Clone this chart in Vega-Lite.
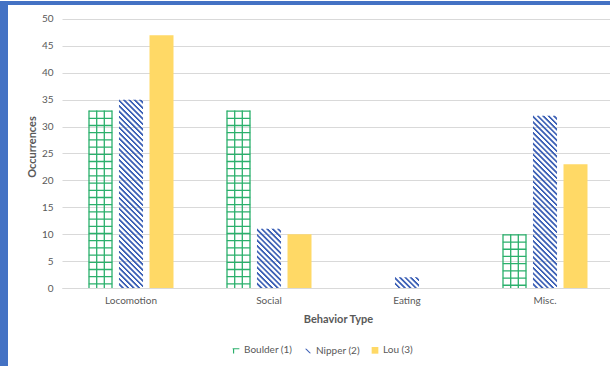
{
  "$schema": "https://vega.github.io/schema/vega-lite/v6.json",
  "padding": 0,
  "background": "white",
  "columns": 2,
  "align": "each",
  "bounds": "flush",
  "spacing": 0,
  "concat": [
    {"width": 62, "height": 4, "data": {"values": [{}]}, "mark": {"type": "point", "opacity": 0}, "view": {"fill": "#4472C4", "stroke": null}},
    {"width": 552, "height": 4, "data": {"values": [{}]}, "mark": {"type": "point", "opacity": 0}, "view": {"fill": "#4472C4", "stroke": null}},
    {"width": 8, "height": 362, "data": {"values": [{}]}, "mark": {"type": "point", "opacity": 0}, "view": {"fill": "#4472C4", "stroke": null}},
    {
      "width": 552,
      "height": 283,
      "view": {"fill": "white", "stroke": null},
      "data": {"values": [
        {"behavior": "Locomotion", "dog": "Boulder (1)", "value": 33},
        {"behavior": "Locomotion", "dog": "Nipper (2)", "value": 35},
        {"behavior": "Locomotion", "dog": "Lou (3)", "value": 47},
        {"behavior": "Social", "dog": "Boulder (1)", "value": 33},
        {"behavior": "Social", "dog": "Nipper (2)", "value": 11},
        {"behavior": "Social", "dog": "Lou (3)", "value": 10},
        {"behavior": "Eating", "dog": "Boulder (1)", "value": 0},
        {"behavior": "Eating", "dog": "Nipper (2)", "value": 2},
        {"behavior": "Eating", "dog": "Lou (3)", "value": 0},
        {"behavior": "Misc.", "dog": "Boulder (1)", "value": 10},
        {"behavior": "Misc.", "dog": "Nipper (2)", "value": 32},
        {"behavior": "Misc.", "dog": "Lou (3)", "value": 23}
      ]},
      "encoding": {
        "x": {
          "field": "behavior", "type": "nominal",
          "sort": ["Locomotion", "Social", "Eating", "Misc."],
          "scale": {"paddingInner": 0.384, "paddingOuter": 0.192},
          "axis": {"title": "Behavior Type", "labelAngle": 0, "ticks": false, "domainColor": "#D9D9D9", "domainWidth": 1, "labelPadding": 7, "titlePadding": 8, "labelFontSize": 10, "titleFontSize": 11}
        },
        "y": {
          "field": "value", "type": "quantitative",
          "scale": {"domain": [0, 52.6], "nice": false, "zero": true},
          "axis": {"title": "Occurrences", "values": [0, 5, 10, 15, 20, 25, 30, 35, 40, 45, 50], "domain": false, "ticks": false, "labelPadding": 9, "titlePadding": 4, "gridColor": "#D9D9D9", "gridWidth": 1, "labelFontSize": 10, "titleFontSize": 11}
        }
      },
      "layer": [
        {
          "transform": [{"filter": "datum.dog === 'Lou (3)'"}],
          "mark": {"type": "bar", "color": "#FFD966"},
          "encoding": {
            "xOffset": {"field": "dog", "type": "nominal", "scale": {"domain": ["Boulder (1)", "Nipper (2)", "Lou (3)"], "paddingInner": 0.213, "paddingOuter": 0}}
          }
        },
        {
          "transform": [{"filter": "datum.dog === 'Boulder (1)'"}],
          "encoding": {"y2": {"datum": 0}},
          "layer": [
            {"mark": {"type": "rule", "color": "#2BB06C", "xOffset": -30.5, "strokeWidth": 23.5, "strokeDash": [1.3, 5.9], "strokeCap": "butt"}},
            {"mark": {"type": "rule", "color": "#2BB06C", "xOffset": -42, "strokeWidth": 1.3, "strokeCap": "butt"}},
            {"mark": {"type": "rule", "color": "#2BB06C", "xOffset": -34.3, "strokeWidth": 1.3, "strokeCap": "butt"}},
            {"mark": {"type": "rule", "color": "#2BB06C", "xOffset": -26.7, "strokeWidth": 1.3, "strokeCap": "butt"}},
            {"mark": {"type": "rule", "color": "#2BB06C", "xOffset": -19, "strokeWidth": 1.3, "strokeCap": "butt"}}
          ]
        },
        {
          "transform": [{"filter": "datum.dog === 'Nipper (2)'"}],
          "encoding": {"y2": {"datum": 0}},
          "layer": [
            {"mark": {"type": "rule", "color": "#3F62B6", "xOffset": -11.5, "strokeDashOffset": 54, "strokeWidth": 1.05, "strokeDash": [2.4, 3.0], "strokeCap": "butt"}},
            {"mark": {"type": "rule", "color": "#3F62B6", "xOffset": -10.5, "strokeDashOffset": 53, "strokeWidth": 1.05, "strokeDash": [2.4, 3.0], "strokeCap": "butt"}},
            {"mark": {"type": "rule", "color": "#3F62B6", "xOffset": -9.5, "strokeDashOffset": 52, "strokeWidth": 1.05, "strokeDash": [2.4, 3.0], "strokeCap": "butt"}},
            {"mark": {"type": "rule", "color": "#3F62B6", "xOffset": -8.5, "strokeDashOffset": 51, "strokeWidth": 1.05, "strokeDash": [2.4, 3.0], "strokeCap": "butt"}},
            {"mark": {"type": "rule", "color": "#3F62B6", "xOffset": -7.5, "strokeDashOffset": 50, "strokeWidth": 1.05, "strokeDash": [2.4, 3.0], "strokeCap": "butt"}},
            {"mark": {"type": "rule", "color": "#3F62B6", "xOffset": -6.5, "strokeDashOffset": 49, "strokeWidth": 1.05, "strokeDash": [2.4, 3.0], "strokeCap": "butt"}},
            {"mark": {"type": "rule", "color": "#3F62B6", "xOffset": -5.5, "strokeDashOffset": 48, "strokeWidth": 1.05, "strokeDash": [2.4, 3.0], "strokeCap": "butt"}},
            {"mark": {"type": "rule", "color": "#3F62B6", "xOffset": -4.5, "strokeDashOffset": 47, "strokeWidth": 1.05, "strokeDash": [2.4, 3.0], "strokeCap": "butt"}},
            {"mark": {"type": "rule", "color": "#3F62B6", "xOffset": -3.5, "strokeDashOffset": 46, "strokeWidth": 1.05, "strokeDash": [2.4, 3.0], "strokeCap": "butt"}},
            {"mark": {"type": "rule", "color": "#3F62B6", "xOffset": -2.5, "strokeDashOffset": 45, "strokeWidth": 1.05, "strokeDash": [2.4, 3.0], "strokeCap": "butt"}},
            {"mark": {"type": "rule", "color": "#3F62B6", "xOffset": -1.5, "strokeDashOffset": 44, "strokeWidth": 1.05, "strokeDash": [2.4, 3.0], "strokeCap": "butt"}},
            {"mark": {"type": "rule", "color": "#3F62B6", "xOffset": -0.5, "strokeDashOffset": 43, "strokeWidth": 1.05, "strokeDash": [2.4, 3.0], "strokeCap": "butt"}},
            {"mark": {"type": "rule", "color": "#3F62B6", "xOffset": 0.5, "strokeDashOffset": 42, "strokeWidth": 1.05, "strokeDash": [2.4, 3.0], "strokeCap": "butt"}},
            {"mark": {"type": "rule", "color": "#3F62B6", "xOffset": 1.5, "strokeDashOffset": 41, "strokeWidth": 1.05, "strokeDash": [2.4, 3.0], "strokeCap": "butt"}},
            {"mark": {"type": "rule", "color": "#3F62B6", "xOffset": 2.5, "strokeDashOffset": 40, "strokeWidth": 1.05, "strokeDash": [2.4, 3.0], "strokeCap": "butt"}},
            {"mark": {"type": "rule", "color": "#3F62B6", "xOffset": 3.5, "strokeDashOffset": 39, "strokeWidth": 1.05, "strokeDash": [2.4, 3.0], "strokeCap": "butt"}},
            {"mark": {"type": "rule", "color": "#3F62B6", "xOffset": 4.5, "strokeDashOffset": 38, "strokeWidth": 1.05, "strokeDash": [2.4, 3.0], "strokeCap": "butt"}},
            {"mark": {"type": "rule", "color": "#3F62B6", "xOffset": 5.5, "strokeDashOffset": 37, "strokeWidth": 1.05, "strokeDash": [2.4, 3.0], "strokeCap": "butt"}},
            {"mark": {"type": "rule", "color": "#3F62B6", "xOffset": 6.5, "strokeDashOffset": 36, "strokeWidth": 1.05, "strokeDash": [2.4, 3.0], "strokeCap": "butt"}},
            {"mark": {"type": "rule", "color": "#3F62B6", "xOffset": 7.5, "strokeDashOffset": 35, "strokeWidth": 1.05, "strokeDash": [2.4, 3.0], "strokeCap": "butt"}},
            {"mark": {"type": "rule", "color": "#3F62B6", "xOffset": 8.5, "strokeDashOffset": 34, "strokeWidth": 1.05, "strokeDash": [2.4, 3.0], "strokeCap": "butt"}},
            {"mark": {"type": "rule", "color": "#3F62B6", "xOffset": 9.5, "strokeDashOffset": 33, "strokeWidth": 1.05, "strokeDash": [2.4, 3.0], "strokeCap": "butt"}},
            {"mark": {"type": "rule", "color": "#3F62B6", "xOffset": 10.5, "strokeDashOffset": 32, "strokeWidth": 1.05, "strokeDash": [2.4, 3.0], "strokeCap": "butt"}},
            {"mark": {"type": "rule", "color": "#3F62B6", "xOffset": 11.5, "strokeDashOffset": 31, "strokeWidth": 1.05, "strokeDash": [2.4, 3.0], "strokeCap": "butt"}}
          ]
        },
        {
          "mark": {"type": "point", "filled": true, "opacity": 0},
          "encoding": {
            "fill": {
              "field": "dog", "type": "nominal",
              "scale": {"domain": ["Boulder (1)", "Nipper (2)", "Lou (3)"], "range": ["#2BB06C", "#3F62B6", "#FFD966"]},
              "legend": {"orient": "none", "legendX": 231, "legendY": 344, "direction": "horizontal", "title": null, "symbolOpacity": 1, "symbolSize": 45, "labelFontSize": 10, "labelColor": "#595959", "columnPadding": 8, "labelOffset": 3}
            },
            "shape": {
              "field": "dog", "type": "nominal",
              "scale": {"domain": ["Boulder (1)", "Nipper (2)", "Lou (3)"], "range": ["M-1,-0.7H1V-0.35H-1Z M-0.9,-0.7H-0.55V0.9H-0.9Z", "M-0.9,-0.6L-0.45,-0.6L0.9,0.8L0.45,0.8Z", "square"]},
              "legend": {"orient": "none", "legendX": 231, "legendY": 344, "direction": "horizontal", "title": null, "symbolOpacity": 1, "symbolSize": 45, "labelFontSize": 10, "labelColor": "#595959", "columnPadding": 8, "labelOffset": 3}
            }
          }
        }
      ]
    }
  ],
  "config": {
    "font": "Lato",
    "view": {"stroke": null},
    "axis": {"labelColor": "#595959", "titleColor": "#595959", "titleFontWeight": "bold", "labelFont": "Lato", "titleFont": "Lato"},
    "legend": {"labelFont": "Lato"}
  }
}
